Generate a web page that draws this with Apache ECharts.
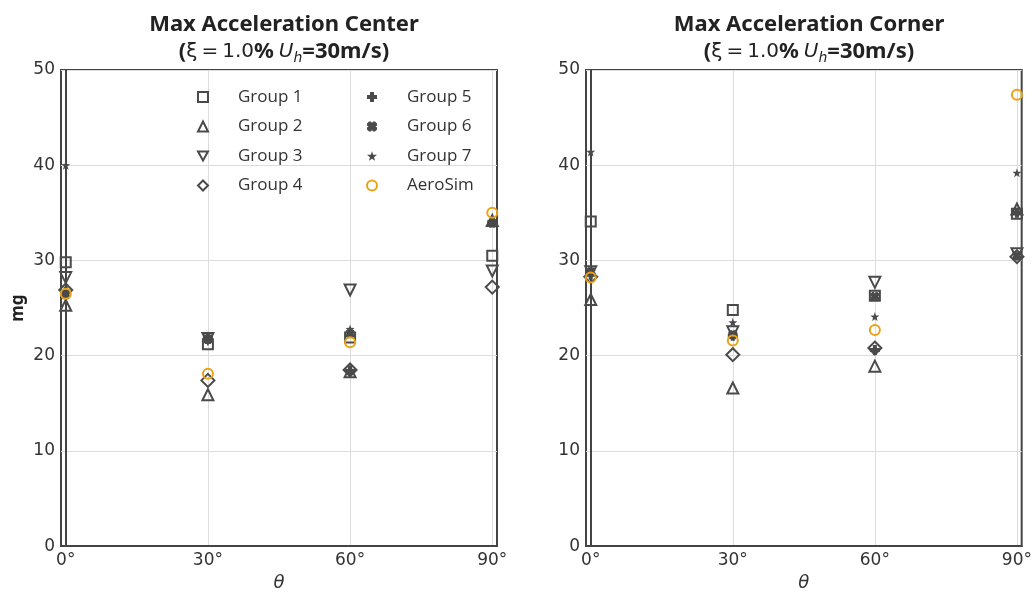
<!DOCTYPE html>
<html><head><meta charset="utf-8">
<script src="https://cdn.jsdelivr.net/npm/echarts@6/dist/echarts.min.js"></script>
<style>html,body{margin:0;padding:0;background:#fff}#c{width:1035px;height:597px}</style>
</head><body><div id="c"></div>
<script>
// Data
const angles = [0, 30, 60, 90];
const tickLabels = ['0°', '30°', '60°', '90°'];
const seriesNames = ['Group 1','Group 2','Group 3','Group 4','Group 5','Group 6','Group 7','AeroSim'];
// Max Acceleration Center (mg)
const centerG1 = [29.8, 21.2, 21.9, 30.5];
const centerG2 = [25.3, 15.9, 18.3, 34.2];
const centerG3 = [28.2, 21.8, 26.9, 28.9];
const centerG4 = [26.9, 17.4, 18.5, 27.2];
const centerG5 = [26.7, 21.9, 18.4, 34.0];
const centerG6 = [26.4, 21.7, 22.3, 33.9];
const centerG7 = [40.0, 22.1, 22.8, 34.0];
const centerAero = [26.5, 18.1, 21.4, 35.0];
// Max Acceleration Corner (mg)
const cornerG1 = [34.1, 24.8, 26.3, 34.9];
const cornerG2 = [25.9, 16.6, 18.9, 35.4];
const cornerG3 = [28.8, 22.5, 27.7, 30.7];
const cornerG4 = [28.3, 20.1, 20.8, 30.4];
const cornerG5 = [28.5, 22.1, 20.6, 35.0];
const cornerG6 = [28.8, 22.2, 26.2, 30.5];
const cornerG7 = [41.4, 23.5, 24.1, 39.2];
const cornerAero = [28.2, 21.6, 22.7, 47.4];

const centerData = [centerG1, centerG2, centerG3, centerG4, centerG5, centerG6, centerG7, centerAero];
const cornerData = [cornerG1, cornerG2, cornerG3, cornerG4, cornerG5, cornerG6, cornerG7, cornerAero];

const GRAY = '#4a4a4a';
const ORANGE = '#eba217';
const symbols = [
  {symbol: 'rect', size: 10, hollow: true},
  {symbol: 'triangle', size: 11, hollow: true},
  {symbol: 'path://M0,0 L10,0 L5,9 Z', size: 11, hollow: true},
  {symbol: 'diamond', size: 13, hollow: true},
  {symbol: 'path://M3,0H7V3H10V7H7V10H3V7H0V3H3Z', size: 10, hollow: false},
  {symbol: 'path://M2,0 L4,0 L5,1.5 L6,0 L8,0 L10,2 L10,4 L8.5,5 L10,6 L10,8 L8,10 L6,10 L5,8.5 L4,10 L2,10 L0,8 L0,6 L1.5,5 L0,4 L0,2 Z', size: 9, hollow: false},
  {symbol: 'path://M5,0 L6.2,3.5 L10,3.6 L7,5.9 L8.1,9.5 L5,7.4 L1.9,9.5 L3,5.9 L0,3.6 L3.8,3.5 Z', size: 9, hollow: false},
  {symbol: 'circle', size: 10, hollow: true, color: ORANGE}
];

function makeSeries(dataArr, axisIdx) {
  return dataArr.map((vals, i) => {
    const s = symbols[i];
    const c = s.color || GRAY;
    return {
      name: seriesNames[i],
      type: 'scatter',
      xAxisIndex: axisIdx, yAxisIndex: axisIdx,
      symbol: s.symbol, symbolSize: s.size,
      itemStyle: s.hollow ? {color: 'rgba(255,255,255,0)', borderColor: c, borderWidth: 2, opacity: 1} : {color: c, borderWidth: 0, opacity: 1},
      emphasis: {disabled: true},
      z: 2 + i,
      data: angles.map((a, j) => [a, vals[j]])
    };
  });
}

const tickFont = {fontFamily: 'DejaVu Sans', fontSize: 17, color: '#333'};
function xAxis(grid) {
  return {
    type: 'value', gridIndex: grid, min: -1, max: 91,
    name: 'θ', nameLocation: 'middle', nameGap: 27,
    nameTextStyle: {fontFamily: 'DejaVu Sans', fontStyle: 'italic', fontSize: 18, color: '#333'},
    axisLine: {show: true, lineStyle: {color: '#444', width: 2}},
    axisTick: {show: false, customValues: angles},
    axisLabel: {customValues: angles, formatter: v => tickLabels[angles.indexOf(v)], margin: 6, ...tickFont},
    splitLine: {show: true, lineStyle: {color: '#dcdcdc', width: 1}}
  };
}
function yAxis(grid, withName) {
  return {
    type: 'value', gridIndex: grid, min: 0, max: 50, interval: 10,
    name: withName ? 'mg' : '', nameLocation: 'middle', nameGap: 34, nameRotate: 90,
    nameTextStyle: {fontFamily: 'Noto Sans', fontWeight: 'bold', fontSize: 17, color: '#222'},
    axisLine: {show: true, lineStyle: {color: '#444', width: 2}},
    axisTick: {show: false},
    axisLabel: {margin: 6, ...tickFont},
    splitLine: {show: true, lineStyle: {color: '#dcdcdc', width: 1}}
  };
}

const titleRich = {
  t: {fontFamily: 'Noto Sans', fontWeight: 'bold', fontSize: 22, color: '#222', lineHeight: 27},
  b: {fontFamily: 'Noto Sans', fontWeight: 'bold', fontSize: 22, color: '#222', lineHeight: 27},
  r: {fontFamily: 'DejaVu Sans', fontWeight: 'normal', fontSize: 20, color: '#222', lineHeight: 27},
  i: {fontFamily: 'DejaVu Sans', fontWeight: 'normal', fontStyle: 'italic', fontSize: 20, color: '#222', lineHeight: 27},
  s: {fontFamily: 'DejaVu Sans', fontWeight: 'normal', fontStyle: 'italic', fontSize: 14, color: '#222', lineHeight: 27, verticalAlign: 'bottom'}
};
function title(name, cx) {
  return {
    text: '{t|Max Acceleration ' + name + '}\n{b|(}{r|ξ\u2009=\u20091.0}{b|%} {i|U}{s|h}{b|=30m/s)}',
    left: cx, top: 6, textAlign: 'center',
    textStyle: {rich: titleRich}
  };
}

const legendBase = {
  orient: 'vertical', top: 82, itemWidth: 10, itemHeight: 10, itemGap: 9.5,
  textStyle: {fontFamily: 'Open Sans', fontSize: 17, color: '#333', padding: [0,0,0,25], lineHeight: 20},
  selectedMode: false
};

const option = {
  animation: false,
  backgroundColor: '#fff',
  title: [title('Center', 279), title('Corner', 804)],
  legend: [
    Object.assign({}, legendBase, {left: 192, data: seriesNames.slice(0, 4)}),
    Object.assign({}, legendBase, {left: 361, data: seriesNames.slice(4)})
  ],
  grid: [
    {left: 61, top: 70, width: 436, height: 479, show: true, borderColor: '#444', borderWidth: 2, backgroundColor: '#fff'},
    {left: 586, top: 70, width: 437, height: 479, show: true, borderColor: '#444', borderWidth: 2, backgroundColor: '#fff'}
  ],
  xAxis: [xAxis(0), xAxis(1)],
  yAxis: [yAxis(0, true), yAxis(1, false)],
  series: [...makeSeries(centerData, 0), ...makeSeries(cornerData, 1)]
};

const chart = echarts.init(document.getElementById('c'), null, {renderer: 'canvas'});
chart.setOption(option);
</script></body></html>
